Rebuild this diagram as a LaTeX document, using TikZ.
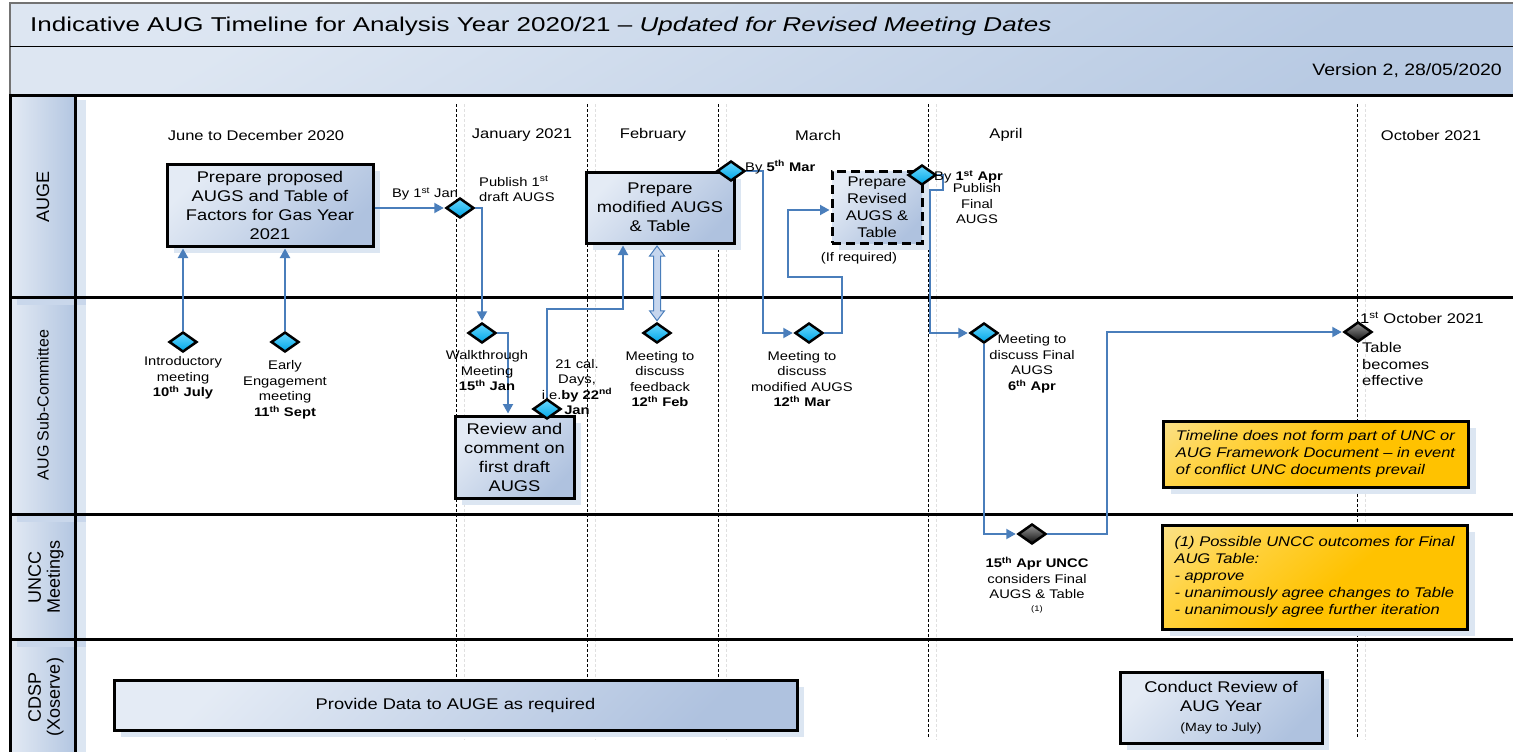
\documentclass[tikz,border=0pt]{standalone}
\usepackage{fontspec}
\setmainfont{Liberation Sans}[FakeStretch=1.18]
\newfontfamily\rotfam{Liberation Sans}
\newfontfamily\titlefam{Liberation Sans}[FakeStretch=1.3]
\usetikzlibrary{shapes.geometric,arrows.meta,calc,shadows}
\definecolor{connc}{HTML}{4A7EBB}
\definecolor{boxA}{HTML}{E4EBF5}
\definecolor{boxB}{HTML}{AFC2DF}
\definecolor{shad}{HTML}{DCE6F2}
\definecolor{shadB}{HTML}{C9D7EB}
\definecolor{cyA}{HTML}{6AD8FF}
\definecolor{cyB}{HTML}{00A6E6}
\definecolor{noteA}{HTML}{F6EDC8}
\definecolor{noteM}{HTML}{FFD447}
\definecolor{noteB}{HTML}{FFC200}
\definecolor{hdrA}{HTML}{DDE6F2}
\definecolor{hdrB}{HTML}{B8CAE3}
\definecolor{colA}{HTML}{E3EAF4}
\definecolor{colB}{HTML}{B3C6E1}
\definecolor{holl}{HTML}{C6D6EE}
\pgfdeclareverticalshading{noteshade}{100bp}{color(0bp)=(noteB); color(45bp)=(noteB); color(70bp)=(noteM); color(100bp)=(noteA)}
\newcommand\fntbox{\fontsize{15.5}{19}\selectfont}
\newcommand\fntdash{\fontsize{14}{17}\selectfont}
\newcommand\fntlbl{\fontsize{12.5}{15.5}\selectfont}
\newcommand\fntmid{\fontsize{14}{16.5}\selectfont}
\newcommand\fntnote{\fontsize{14}{17}\itshape\selectfont}
\newcommand\fntrot{\rotfam\fontsize{18}{19}\selectfont}
\newcommand\fntrotsm{\rotfam\fontsize{16}{18}\selectfont}
\begin{document}
\begin{tikzpicture}[x=1pt,y=-1pt,
  mybox/.style={draw=black, line width=3pt, top color=boxA, bottom color=boxB, shading angle=45,
    inner sep=0, align=center, font=\fntbox,
    drop shadow={shadow xshift=7pt, shadow yshift=-7pt, fill=shad, opacity=1}},
  dashbox/.style={mybox, dash pattern=on 9pt off 5pt, font=\fntdash},
  notebox/.style={draw=black, line width=3pt, shade, shading=noteshade, shading angle=40,
    inner sep=0, align=left, font=\fntnote,
    drop shadow={shadow xshift=8pt, shadow yshift=-7pt, fill=shad, opacity=1}},
  dia/.style={diamond, draw=black, line width=2.5pt, minimum width=28pt, minimum height=20pt,
    inner sep=0, top color=cyA, bottom color=cyB},
  ddia/.style={dia, top color=black!40, bottom color=black!95},
  lbl/.style={font=\fntlbl, align=center, inner sep=0},
  mid/.style={font=\fntmid, align=center, inner sep=0},
  conn/.style={draw=connc, line width=2pt, shorten >=1pt, -{Triangle[length=9.5pt,width=10pt]}},
  hollowarr/.style={draw=connc, line width=1pt, fill=holl},
  lane/.style={line width=3pt, black},
  vdash/.style={black, line width=0.8pt, dash pattern=on 3pt off 2pt},
  vshadow/.style={black!12, line width=0.8pt, dash pattern=on 3pt off 2pt}
]
\useasboundingbox (0,0) rectangle (1513,752);
% header
\path[top color=hdrA, bottom color=hdrB, shading angle=30] (10,3) rectangle (1513,47);
\path[top color=hdrA, bottom color=hdrB, shading angle=30] (10,47) rectangle (1513,94);
\draw[black!55, line width=1.5pt] (1513,3) -- (10,3) -- (10,94);
\draw[black, line width=1pt] (10,47) -- (1513,47);
\node[anchor=west, inner sep=0, font=\titlefam\fontsize{20}{23}\selectfont] (title) at (30,26)
  {Indicative AUG Timeline for Analysis Year 2020/21 – \textit{Updated for Revised Meeting Dates}};
\node[anchor=east, inner sep=0, font=\fontsize{16.5}{19}\selectfont] (ver) at (1502,71) {Version 2, 28/05/2020};
% lane label column
\foreach \ya/\yb in {95/297,297/514,514/639,639/752}
  \path[left color=colA, right color=colB] (10,\ya) rectangle (75,\yb);
\fill[shad] (76,100) rectangle (86,752);
\foreach \ya in {297,514,639}
  \fill[shadB] (17,\ya) rectangle (86,\ya+8);
% month separators
\foreach \x in {456,587,718,928,1357} {
  \draw[vshadow] (\x+8,104) -- (\x+8,740);
  \draw[vdash] (\x,104) -- (\x,738);
}
% lane lines
\draw[lane] (10,95) -- (1513,95);
\draw[lane] (10,297) -- (1513,297);
\draw[lane] (10,514) -- (1513,514);
\draw[lane] (10,639) -- (1513,639);
\draw[lane] (10,93.5) -- (10,752);
\draw[lane] (75,95) -- (75,752);
% lane labels
\node[rotate=90, font=\fntrot, inner sep=0] (lAUGE) at (43,197) {AUGE};
\node[rotate=90, font=\fntrotsm, inner sep=0] (lSub) at (43,405) {AUG Sub-Committee};
\node[rotate=90, font=\fntrot, align=center, inner sep=0] (lUNCC) at (46,577) {UNCC\\Meetings};
\node[rotate=90, font=\fntrot, align=center, inner sep=0] (lCDSP) at (46,697) {CDSP\\(Xoserve)};
% month labels
\node[mid] (mJun) at (256,135) {June to December 2020};
\node[mid] (mJan) at (522,135) {January 2021};
\node[mid] (mFeb) at (653,135) {February};
\node[mid] (mMar) at (818,135) {March};
\node[mid] (mApr) at (1006,135) {April};
\node[mid] (mOct) at (1431,135) {October 2021};
% boxes
\node[mybox, minimum width=206pt, minimum height=82pt] (bProp) at (270,205)
  {Prepare proposed\\AUGS and Table of\\Factors for Gas Year\\2021};
\node[mybox, minimum width=148pt, minimum height=71pt] (bMod) at (660,207.5)
  {Prepare\\modified AUGS\\\& Table};
\node[dashbox, minimum width=90pt, minimum height=72pt] (bRev) at (877,207)
  {Prepare\\Revised\\AUGS \&\\Table};
\node[mybox, minimum width=119pt, minimum height=82pt] (bReview) at (514.5,457)
  {Review and\\comment on\\first draft\\AUGS};
\node[mybox, minimum width=683pt, minimum height=50pt] (bData) at (455.5,705)
  {Provide Data to AUGE as required};
\node[mybox, minimum width=202pt, minimum height=71pt] (bConduct) at (1221,707.5)
  {Conduct Review of\\AUG Year\\[1pt]{\fontsize{12}{14}\selectfont (May to July)}};
\node[notebox, minimum width=305pt, minimum height=66pt] (nNote1) at (1315.5,454)
  {Timeline does not form part of UNC or\\AUG Framework Document – in event\\of conflict UNC documents prevail};
\node[notebox, minimum width=305pt, minimum height=104pt] (nNote2) at (1314.5,577)
  {(1) Possible UNCC outcomes for Final\\AUG Table:\\- approve\\- unanimously agree changes to Table\\- unanimously agree further iteration};
% diamonds
\node[dia] (dJan1) at (460,208) {};
\node[dia] (dWalk) at (482,333) {};
\node[dia] (d22Jan) at (547,409) {};
\node[dia] (dFeb) at (657,333) {};
\node[dia] (dMar5) at (731,171) {};
\node[dia] (dMar12) at (809,333) {};
\node[dia] (dApr1) at (922,175) {};
\node[dia] (dApr6) at (984,333) {};
\node[dia] (dIntro) at (183,342) {};
\node[dia] (dEarly) at (285,342) {};
\node[ddia] (dUNCC) at (1032,534) {};
\node[ddia] (dOct) at (1358,332) {};
% connectors
\draw[conn] (bProp.east |- dJan1) -- (dJan1.west);
\draw[conn] (dJan1.east) -| (dWalk.north);
\draw[conn] (dWalk.east) -| ($(bReview.north)+(-6.5,0)$);
\coordinate (c22) at (623,309);
\draw[conn] (d22Jan.north) |- (c22) -- (c22 |- bMod.south);
\draw[conn] (dIntro.north) -- (dIntro.north |- bProp.south);
\draw[conn] (dEarly.north) -- (dEarly.north |- bProp.south);
\coordinate (hT) at ($(dFeb.north |- bMod.south)+(0,1.5)$);
\coordinate (hB) at ($(dFeb.north)+(0,-1)$);
\draw[hollowarr] (hT) -- ++(7.5,10) -- ++(-4,0) -- ($(hB)+(3.5,-10)$) -- ++(4,0) -- (hB)
  -- ++(-7.5,-10) -- ++(4,0) -- ($(hT)+(-3.5,10)$) -- ++(-4,0) -- cycle;
\coordinate (cM5) at (763,171);
\draw[conn] (dMar5.east) -- (cM5) |- (dMar12.west);
\coordinate (cL1) at (842,277);
\coordinate (cL2) at (788,210);
\draw[conn] (dMar12.east) -| (cL1) -| (cL2) -- (cL2 -| bRev.west);
\coordinate (cA2) at (930,190);
\draw[conn] (dApr1.east) -- ++(6,0) -- ++(0,15) -- (cA2) |- (dApr6.west);
\draw[conn] (dApr6.south) |- (dUNCC.west);
\coordinate (cU) at (1107,420);
\draw[conn] (dUNCC.east) -| (cU) |- (dOct.west);
% labels
\node[lbl] (tByJan) at (425,194) {By 1\textsuperscript{st} Jan};
\node[lbl, anchor=west, align=left] (tPub1) at (479,189) {Publish 1\textsuperscript{st}\\draft AUGS};
\node[lbl, anchor=west] (tBy5) at (745,167) {By \textbf{5\textsuperscript{th} Mar}};
\node[lbl] (tIfReq) at (859,258) {(If required)};
\node[lbl, anchor=west] (tBy1Apr) at (934,177) {By \textbf{1\textsuperscript{st} Apr}};
\node[lbl] (tPubF) at (977,204) {Publish\\Final\\AUGS};
\node[lbl] (tIntro) at (183,378) {Introductory\\meeting\\\textbf{10\textsuperscript{th} July}};
\node[lbl] (tEarly) at (285,390) {Early\\Engagement\\meeting\\\textbf{11\textsuperscript{th} Sept}};
\node[lbl] (tWalk) at (487,371) {Walkthrough\\Meeting\\\textbf{15\textsuperscript{th} Jan}};
\node[lbl] (t21) at (577,387) {21 cal.\\Days,\\i.e.\textbf{by 22\textsuperscript{nd}}\\\textbf{Jan}};
\node[lbl] (tFebM) at (660,379) {Meeting to\\discuss\\feedback\\\textbf{12\textsuperscript{th} Feb}};
\node[lbl] (tMarM) at (802,379) {Meeting to\\discuss\\modified AUGS\\\textbf{12\textsuperscript{th} Mar}};
\node[lbl] (tAprM) at (1032,364) {Meeting to\\discuss Final\\AUGS\\\textbf{6\textsuperscript{th} Apr}};
\node[mid, anchor=west] (tOct1) at (1360,318) {1\textsuperscript{st} October 2021};
\node[mid, anchor=west, align=left] (tOct2) at (1362,364) {Table\\becomes\\effective};
\node[lbl] (tUNCC) at (1037,585) {\textbf{15\textsuperscript{th} Apr UNCC}\\considers Final\\AUGS \& Table\\[-3pt]{\fontsize{8}{9}\selectfont (1)}};
\end{tikzpicture}
\end{document}
